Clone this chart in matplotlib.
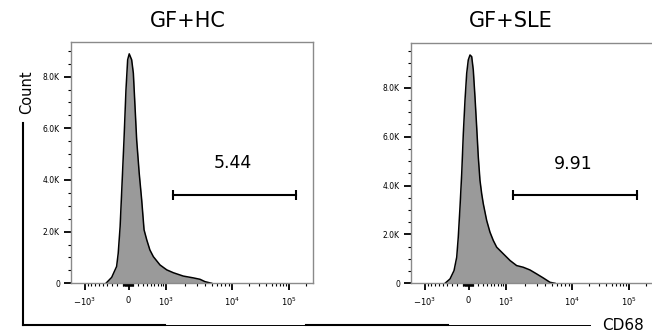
import numpy as np
import matplotlib
matplotlib.use("Agg")
import matplotlib.pyplot as plt
from matplotlib.lines import Line2D
from matplotlib.ticker import FixedLocator, MultipleLocator, FuncFormatter

# histogram outlines (CD68 channel value, count)
hc_x = [-430, -310, -215, -185, -150, -120, -80, -45, -15, 15, 65, 100, 135, 170,
        225, 280, 335, 400, 480, 575, 780, 1030, 1320, 1890, 2680, 3380, 4000, 5030]
hc_y = [0, 230, 650, 1160, 2190, 3610, 5550, 7480, 8650, 8880, 8650, 8130, 6840, 5550,
        4260, 3230, 2070, 1680, 1290, 1030, 710, 520, 410, 280, 210, 155, 65, 0]

sle_x = [-450, -344, -264, -213, -184, -152, -121, -92, -62, -32, -4, 31, 66, 99, 134,
         170, 205, 242, 280, 317, 398, 482, 573, 673, 900, 1172, 1492, 1892, 2388,
         3018, 3780, 4752, 5628]
sle_y = [0, 178, 520, 1067, 1887, 3118, 4485, 6126, 7494, 8588, 9135, 9340, 9272, 8725,
         7631, 6400, 5169, 4212, 3665, 3255, 2571, 2092, 1750, 1477, 1203, 930, 725,
         656, 547, 383, 219, 41, 0]

titles = ["GF+HC", "GF+SLE"]
gate_pct = ["5.44", "9.91"]
gate_lo = [1305, 1320]
gate_hi = [134000, 140000]
gate_y = [3420, 3600]
label_y = [4650, 4900]
y_top = [9350, 9830]

xtick_vals = [-1000, 0, 1000, 10000, 100000]
xtick_labels = [r"$-10^{3}$", "0", r"$10^{3}$", r"$10^{4}$", r"$10^{5}$"]

# biexponential-like display scale (asinh, pinned to where the decades sit)
W = 600.0
knot_x = np.array([-1580, -1000, 0, 1000, 1e4, 1e5, 262144])
knot_p = np.array([0, 14, 57.5, 95, 161, 218, 242], dtype=float)
knot_u = np.arcsinh(knot_x / W)
# extend linearly on both ends so nothing clamps
su0 = (knot_p[1] - knot_p[0]) / (knot_u[1] - knot_u[0])
su1 = (knot_p[-1] - knot_p[-2]) / (knot_u[-1] - knot_u[-2])
knot_u = np.concatenate([[knot_u[0] - 30], knot_u, [knot_u[-1] + 30]])
knot_p = np.concatenate([[knot_p[0] - 30 * su0], knot_p, [knot_p[-1] + 30 * su1]])


def fwd(x):
    return np.interp(np.arcsinh(np.asarray(x, dtype=float) / W), knot_u, knot_p)


def inv(p):
    return W * np.sinh(np.interp(np.asarray(p, dtype=float), knot_p, knot_u))


minor = []
for s in (-1, 1):
    minor += [s * v for v in range(10, 100, 10)]
    minor += [s * v for v in range(100, 1000, 100)]
minor += list(range(2000, 10000, 1000)) + list(range(20000, 100000, 10000)) + [200000]

fig = plt.figure(figsize=(6.52, 3.34), dpi=100)
boxes = [[71 / 652, 1 - 283.3 / 334, 242 / 652, 241.6 / 334],
         [411 / 652, 1 - 283.3 / 334, 242 / 652, 240.3 / 334]]
data = [(hc_x, hc_y), (sle_x, sle_y)]
title_x = [188 / 652, 511 / 652]

for i in range(2):
    ax = fig.add_axes(boxes[i])
    ax.set_xscale("function", functions=(fwd, inv))
    ax.set_xlim(-1580, 262144)
    ax.set_ylim(0, y_top[i])
    x, y = data[i]
    ax.fill_between(x, y, color="#9a9a9a", lw=0)
    ax.plot(x, y, color="k", lw=1.1)

    ax.plot([gate_lo[i], gate_hi[i]], [gate_y[i], gate_y[i]], color="k", lw=1.5)
    ax.plot([gate_lo[i], gate_hi[i]], [gate_y[i], gate_y[i]], ls="none", marker="|",
            ms=7, mew=1.5, color="k")
    ax.text(10400, label_y[i], gate_pct[i], ha="center", va="center", fontsize=12.5)

    ax.xaxis.set_major_locator(FixedLocator(xtick_vals))
    ax.xaxis.set_minor_locator(FixedLocator(minor))
    ax.set_xticklabels(xtick_labels)
    ax.yaxis.set_major_locator(MultipleLocator(2000))
    ax.yaxis.set_minor_locator(MultipleLocator(500))
    ax.yaxis.set_major_formatter(FuncFormatter(lambda v, p: "0" if v == 0 else f"{v / 1000:.1f}K"))
    ax.tick_params(which="major", length=5, width=1.3, labelsize=5.5, pad=3, color="k")
    ax.tick_params(axis="x", which="major", labelsize=6, pad=4)
    ax.tick_params(which="minor", length=2.5, width=0.8, color="k")
    for sp in ax.spines.values():
        sp.set_color("#8a8a8a")
        sp.set_linewidth(1.0)

    fig.text(title_x[i], 1 - 20.7 / 334, titles[i], ha="center", va="center", fontsize=15)

# outer "Count" / "CD68" bracket
fig.text(27 / 652, 1 - 92.5 / 334, "Count", rotation=90, ha="center", va="center", fontsize=10.5)
yb = 1 - 325 / 334
fig.add_artist(Line2D([23 / 652, 23 / 652], [1 - 123 / 334, yb], color="k", lw=1.5))
fig.add_artist(Line2D([23 / 652, 165 / 652], [yb, yb], color="k", lw=1.5))
fig.add_artist(Line2D([165 / 652, 306 / 652], [yb, yb], color="k", lw=0.7))
fig.add_artist(Line2D([306 / 652, 448 / 652], [yb, yb], color="k", lw=1.5))
fig.add_artist(Line2D([448 / 652, 590 / 652], [yb, yb], color="k", lw=0.7))
fig.text(623 / 652, yb, "CD68", ha="center", va="center", fontsize=11)

fig.savefig("out.png", dpi=100)
